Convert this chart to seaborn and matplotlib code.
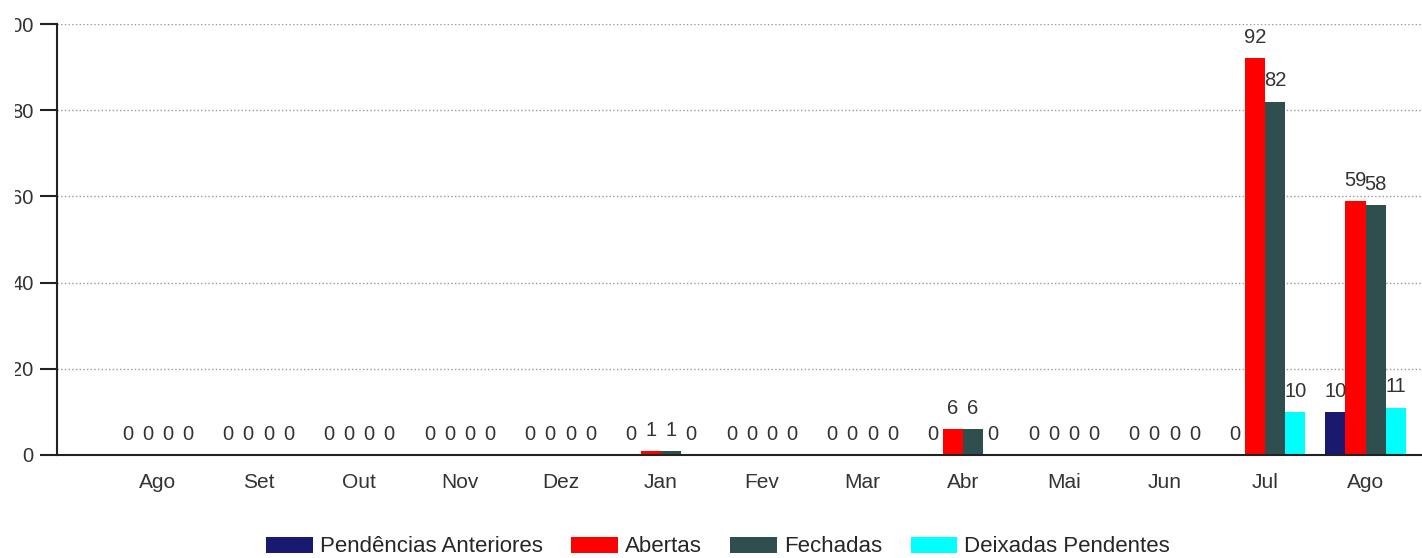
import numpy as np
import pandas as pd
import matplotlib
matplotlib.use("Agg")
import matplotlib.pyplot as plt
from matplotlib.patches import Rectangle
import seaborn as sns

meses = ["Ago", "Set", "Out", "Nov", "Dez", "Jan", "Fev", "Mar", "Abr", "Mai", "Jun", "Jul", "Ago"]
pend_anteriores = [0, 0, 0, 0, 0, 0, 0, 0, 0, 0, 0, 0, 10]
abertas = [0, 0, 0, 0, 0, 1, 0, 0, 6, 0, 0, 92, 59]
fechadas = [0, 0, 0, 0, 0, 1, 0, 0, 6, 0, 0, 82, 58]
deixadas = [0, 0, 0, 0, 0, 0, 0, 0, 0, 0, 0, 10, 11]

series = ["Pendências Anteriores", "Abertas", "Fechadas", "Deixadas Pendentes"]
cores = ["#191970", "#ff0000", "#2f4f4f", "#00ffff"]
y_ticks = [0, 20, 40, 60, 80, 100]

# tabela longa para o seaborn
linhas = []
for nome, vals in zip(series, [pend_anteriores, abertas, fechadas, deixadas]):
    for i, v in enumerate(vals):
        linhas.append({"pos": i, "serie": nome, "valor": v})
df = pd.DataFrame(linhas)

sns.set_style("white")
plt.rcParams["font.family"] = ["Liberation Sans", "DejaVu Sans"]

W, H = 1422, 558
fig = plt.figure(figsize=(W / 100, H / 100), dpi=100)
ax = fig.add_axes([57 / W, 103 / H, 1 - 57 / W, 431 / H])

sns.barplot(data=df, x="pos", y="valor", hue="serie", hue_order=series,
            palette=cores, saturation=1, width=0.8, linewidth=0, ax=ax)

for cont in ax.containers:
    ax.bar_label(cont, fmt="{:.0f}", padding=8, fontsize=14.5, color="#333333")

ax.set_ylim(0, 100)
ax.set_xlim(-1, 12.56)
ax.set_yticks(y_ticks)
ax.set_xticks(range(len(meses)))
ax.set_xticklabels(meses)
ax.set_xlabel("")
ax.set_ylabel("")

ax.yaxis.grid(True, linestyle=":", color="#999999", linewidth=1)
ax.set_axisbelow(True)
for s in ["top", "right"]:
    ax.spines[s].set_visible(False)
for s in ["left", "bottom"]:
    ax.spines[s].set_color("#222222")
    ax.spines[s].set_linewidth(1.5)

ax.tick_params(axis="y", length=12, width=1.5, color="#222222", pad=5,
               labelsize=14.5, labelcolor="#333333", left=True)
ax.tick_params(axis="x", length=0, pad=13, labelsize=15, labelcolor="#333333")

handles, labels = ax.get_legend_handles_labels()
ax.get_legend().remove()
fig.legend(handles, labels, loc="center", bbox_to_anchor=(718 / W, 11 / H),
           ncol=4, frameon=False, fontsize=16, handlelength=2.1,
           handleheight=0.75, handletextpad=0.3, columnspacing=1.3)

# o original esta cortado na borda esquerda (rotulos do eixo y pela metade)
fig.add_artist(Rectangle((0, 0), 15 / W, 1, transform=fig.transFigure,
                         facecolor="white", edgecolor="none", zorder=10))

fig.savefig("out.png", dpi=100)
